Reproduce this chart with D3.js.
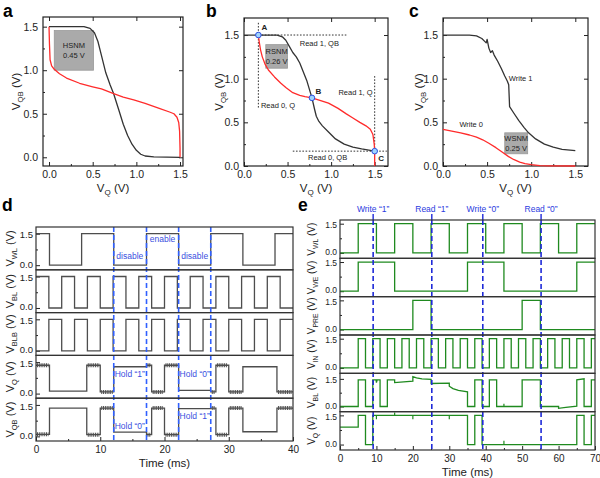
<!DOCTYPE html>
<html>
<head>
<meta charset="utf-8">
<script src="https://cdn.jsdelivr.net/npm/d3@7"></script>
<style>
  body { margin: 0; background: #fff; }
  svg { display: block; font-family: "Liberation Sans", Arial, sans-serif; }
</style>
</head>
<body>
<div class="canvas"></div>
<script>
// ---------- data ----------
// a: butterfly curves (VQ, VQB)
const aBlack = [[0,1.5],[0.4,1.5],[0.47,1.48],[0.52,1.43],[0.56,1.33],[0.6,1.17],[0.65,0.97],[0.7,0.83],[0.74,0.73],[0.8,0.54],[0.85,0.38],[0.9,0.25],[0.95,0.15],[1.0,0.08],[1.05,0.035],[1.1,0.015],[1.2,0.005],[1.5,0]];
const aRed = [[0,1.5],[0.005,1.3],[0.012,1.12],[0.03,1.05],[0.06,1.01],[0.12,0.96],[0.2,0.91],[0.35,0.85],[0.5,0.81],[0.6,0.785],[0.74,0.73],[0.85,0.69],[0.97,0.66],[1.1,0.62],[1.27,0.56],[1.38,0.52],[1.43,0.5],[1.465,0.46],[1.485,0.4],[1.495,0.3],[1.5,0.1],[1.5,0]];
// b: read curves
const bBlack = [[0,1.5],[0.38,1.5],[0.44,1.48],[0.48,1.44],[0.52,1.37],[0.56,1.3],[0.6,1.25],[0.64,1.18],[0.68,1.08],[0.72,0.98],[0.75,0.88],[0.78,0.78],[0.81,0.65],[0.83,0.57],[0.86,0.51],[0.9,0.46],[0.97,0.39],[1.05,0.31],[1.15,0.25],[1.25,0.215],[1.35,0.195],[1.5,0.17]];
const bRed = [[0.165,1.5],[0.175,1.42],[0.19,1.33],[0.21,1.25],[0.24,1.17],[0.28,1.1],[0.35,1.02],[0.42,0.95],[0.48,0.9],[0.56,0.84],[0.64,0.81],[0.7,0.795],[0.78,0.78],[0.88,0.75],[0.97,0.72],[1.08,0.66],[1.17,0.6],[1.25,0.55],[1.33,0.5],[1.4,0.46],[1.45,0.42],[1.48,0.36],[1.495,0.25],[1.5,0.17],[1.5,0]];
const bPoints = [["A",0.165,1.5],["B",0.78,0.78],["C",1.5,0.17]];
// c: write curves
const cBlack = [[0,1.5],[0.3,1.5],[0.38,1.49],[0.44,1.46],[0.47,1.43],[0.49,1.41],[0.5,1.45],[0.52,1.35],[0.54,1.3],[0.56,1.32],[0.58,1.27],[0.62,1.2],[0.66,1.12],[0.7,1.03],[0.73,0.97],[0.745,0.93],[0.755,0.68],[0.8,0.61],[0.86,0.52],[0.92,0.44],[0.97,0.38],[1.05,0.31],[1.15,0.25],[1.25,0.215],[1.35,0.19],[1.5,0.175]];
const cRed = [[0,0.42],[0.1,0.4],[0.2,0.38],[0.3,0.355],[0.38,0.33],[0.45,0.3],[0.52,0.26],[0.6,0.21],[0.67,0.16],[0.74,0.11],[0.8,0.075],[0.87,0.045],[0.93,0.028],[1.0,0.015],[1.1,0.005],[1.2,0.002],[1.5,0]];

// d: hold test, step waveforms [t, level]
const dWL  = [[0,1.5],[2.1,0],[7.1,1.5],[12.1,0],[17.2,1.5],[22.2,0],[27.2,1.5],[32.2,0],[37.2,1.5],[40,1.5]];
const dBL  = [[0,1.5],[2,0],[4,1.5],[6,0],[8,1.5],[10,0],[12,1.5],[14,0],[16,1.5],[18,0],[20,1.5],[22,0],[24,1.5],[26,0],[28,1.5],[30,0],[32,1.5],[34,0],[36,1.5],[38,0],[40,0]];
const dBLB = [[0,0],[2,1.5],[4,0],[6,1.5],[8,0],[10,1.5],[12,0],[14,1.5],[16,0],[18,1.5],[20,0],[22,1.5],[24,0],[26,1.5],[28,0],[30,1.5],[32,0],[34,1.5],[36,0],[38,1.5],[40,1.5]];
// d: Q / QB segments [t0, t1, level, noisy]
const dQ  = [[0,2.1,1.35,1],[2.1,7.9,0.12,0],[7.9,10,1.35,1],[10,12.1,0.08,1],[12.1,17.2,1.28,0],[17.2,18,1.35,1],[18,20,0.08,1],[20,22.2,1.35,1],[22.2,27.2,0.15,0],[27.2,28,0.08,1],[28,30,1.35,1],[30,32.2,0.08,1],[32.2,37.5,1.28,0],[37.5,40,0.08,1]];
const dQB = [[0,2.1,0.1,1],[2.1,7.9,1.35,0],[7.9,10,0.08,1],[10,12.1,1.35,1],[12.1,17.2,0.2,0],[17.2,18,0.08,1],[18,20,1.35,1],[20,22.2,0.08,1],[22.2,27.2,1.32,0],[27.2,28,1.35,1],[28,30,0.08,1],[30,32.2,1.35,1],[32.2,37.5,0.22,0],[37.5,40,1.35,1]];
const dMarks = [12.1, 17.2, 22.2, 27.2];
const dNotes = [["disable",14.6,0,0.45],["enable",19.7,0,1.25],["disable",24.7,0,0.45],
                ["Hold \u201c1\u201d",14.6,3,0.95],["Hold \u201c0\u201d",24.7,3,0.95],
                ["Hold \u201c0\u201d",14.6,4,0.5],["Hold \u201c1\u201d",24.7,4,0.95]];

// e: read/write test
const eWL  = [[0,0],[5,1.5],[10,0],[15,1.5],[20,0],[25,1.5],[30,0],[35,1.5],[40,0],[45,1.5],[50,0],[55,1.5],[60,0],[65,1.5],[70,1.5]];
const eWE  = [[0,0],[5,1.5],[15,0],[35,1.5],[45,0],[65,1.5],[70,1.5]];
const ePRE = [[0,0],[20,1.5],[25,0],[50,1.5],[55,0],[70,0]];
const eIN  = [[0,0],[5,1.5],[7,0],[9,1.5],[11,0],[13,1.5],[15,0],[17,1.5],[19,0],[21,1.5],[23,0],[25,1.5],[27,0],[29,1.5],[31,0],[33,1.5],[35,0],[37,1.5],[39,0],[41,1.5],[43,0],[45,1.5],[47,0],[49,1.5],[51,0],[53,1.5],[55,0],[57,1.5],[59,0],[61,1.5],[63,0],[65,1.5],[67,0],[69,1.5],[70,1.5]];
const eBL  = [[0,0],[5,0],[5,1.45],[7,1.45],[7,0],[9,0],[9,1.45],[9.9,1.45],[10,1.3],[10.2,1.45],[11,1.45],[11,0],[13,0],[13,1.45],[15,1.45],[15,1.3],[20,1.38],[20,1.62],[21,1.55],[22.5,1.5],[25,1.47],[25,1.25],[30,1.27],[30,1.1],[31,0.97],[32.5,0.88],[35,0.8],[35,0],[37,0],[37,1.45],[39,1.45],[39,0],[41,0],[41,1.45],[43,1.45],[43,0],[50,0],[50,1.45],[55,1.45],[55,0],[60,0],[60,-0.1],[62,-0.05],[65,0.02],[65,1.45],[67,1.5],[67,0],[69,0],[69,1.45],[70,1.45]];
const eQ   = [[0,0.9],[5,0.9],[5,1.5],[7,1.5],[7,0],[9,0],[9,1.5],[35,1.5],[35,0],[37,0],[37,1.5],[39,1.5],[39,0],[65,0],[65,1.5],[67,1.5],[67,0],[69,0],[69,1.5],[70,1.5]];
const eQspikes = [[10,1.5,1.3],[15,1.5,1.65],[20,1.5,1.3],[30,1.5,1.3],[45,0,0.2]];
const eBLspikes = [[45,0,0.15]];
const eMarks = [9.1, 25.2, 39.2, 55.2];
const eMarkLabels = ["Write \u201c1\u201d", "Read \u201c1\u201d", "Write \u201c0\u201d", "Read \u201c0\u201d"];

// ---------- drawing ----------
const width = 600, height = 478;
const svg = d3.select('.canvas').append('svg')
  .attr('width', width).attr('height', height)
  .attr('viewBox', [0, 0, width, height]);

const ink = '#222';
const fmt = d3.format('.1f');

function panelLetter(t, x, y) {
  svg.append('text').attr('x', x).attr('y', y)
    .attr('font-size', 17.5).attr('font-weight', 'bold').attr('fill', '#000').text(t);
}

// rotated "V_sub (V)" label
function vLabel(sub, x, yc, size) {
  const t = svg.append('text')
    .attr('transform', `translate(${x},${yc}) rotate(-90)`)
    .attr('text-anchor', 'middle').attr('font-size', size).attr('fill', ink);
  t.append('tspan').text('V');
  t.append('tspan').attr('font-size', size * 0.68).attr('dy', size * 0.25).text(sub);
  t.append('tspan').attr('dy', -size * 0.25).text(' (V)');
}

function styleAxis(g, fs) {
  g.select('.domain').remove();
  g.selectAll('.tick line').attr('stroke', ink).attr('stroke-width', 1);
  g.selectAll('.tick text').attr('font-size', fs).attr('fill', ink).attr('font-family', null);
}

// XY panel (a, b, c)
function xyPanel(p) {
  const x = d3.scaleLinear().domain(p.xd).range([p.l, p.r]);
  const y = d3.scaleLinear().domain(p.yd).range([p.b, p.t]);
  const g = svg.append('g');
  const major = [0, 0.5, 1, 1.5], minor = [0.25, 0.75, 1.25];
  g.append('g').attr('transform', `translate(0,${p.b})`)
    .call(d3.axisBottom(x).tickValues(major).tickFormat(fmt).tickSize(-4).tickPadding(5))
    .call(s => styleAxis(s, 10.5));
  g.append('g').attr('transform', `translate(0,${p.b})`)
    .call(d3.axisBottom(x).tickValues(minor).tickFormat('').tickSize(-2)).call(s => styleAxis(s, 10));
  g.append('g').attr('transform', `translate(0,${p.t})`)
    .call(d3.axisTop(x).tickValues(major).tickFormat('').tickSize(-4)).call(s => styleAxis(s, 10));
  g.append('g').attr('transform', `translate(${p.l},0)`)
    .call(d3.axisLeft(y).tickValues(major).tickFormat(fmt).tickSize(-4).tickPadding(5))
    .call(s => styleAxis(s, 10.5));
  g.append('g').attr('transform', `translate(${p.l},0)`)
    .call(d3.axisLeft(y).tickValues(minor).tickFormat('').tickSize(-2)).call(s => styleAxis(s, 10));
  g.append('g').attr('transform', `translate(${p.r},0)`)
    .call(d3.axisRight(y).tickValues(major).tickFormat('').tickSize(-4)).call(s => styleAxis(s, 10));
  g.append('rect').attr('x', p.l).attr('y', p.t).attr('width', p.r - p.l).attr('height', p.b - p.t)
    .attr('fill', 'none').attr('stroke', ink).attr('stroke-width', 1.2);
  // titles
  const xt = svg.append('text').attr('x', (p.l + p.r) / 2).attr('y', p.b + 26)
    .attr('text-anchor', 'middle').attr('font-size', 11.5).attr('fill', ink);
  xt.append('tspan').text('V');
  xt.append('tspan').attr('font-size', 8).attr('dy', 3).text('Q');
  xt.append('tspan').attr('dy', -3).text(' (V)');
  vLabel('QB', p.yl, (p.t + p.b) / 2, 11.5);
  return { x, y, g };
}

const line = (x, y) => d3.line().x(d => x(d[0])).y(d => y(d[1]));
function curve(P, data, color) {
  P.g.append('path').datum(data).attr('d', line(P.x, P.y)).attr('fill', 'none')
    .attr('stroke', color).attr('stroke-width', 1.3).attr('stroke-linejoin', 'round');
}
function grayBox(P, x0, x1, y0, y1, lines) {
  P.g.append('rect').attr('x', P.x(x0)).attr('y', P.y(y1))
    .attr('width', P.x(x1) - P.x(x0)).attr('height', P.y(y0) - P.y(y1))
    .attr('fill', '#aaaaaa').attr('stroke', '#999').attr('stroke-width', 0.8);
  const cx = (P.x(x0) + P.x(x1)) / 2, cy = (P.y(y0) + P.y(y1)) / 2;
  lines.forEach((t, i) => P.g.append('text').attr('x', cx).attr('y', cy + (i - 0.5) * 10 + 3)
    .attr('text-anchor', 'middle').attr('font-size', 7.5).attr('fill', '#222').text(t));
}
function note(P, t, x, y, opts = {}) {
  P.g.append('text').attr('x', P.x(x)).attr('y', P.y(y)).attr('text-anchor', opts.anchor || 'middle')
    .attr('font-size', opts.size || 7.5).attr('font-weight', opts.bold ? 'bold' : null)
    .attr('fill', '#222').text(t);
}

// ---- a ----
panelLetter('a', 3, 16.5);
const A = xyPanel({ l: 43, r: 183, t: 17, b: 166, xd: [-0.069, 1.534], yd: [-0.1, 1.611], yl: 20 });
grayBox(A, 0.06, 0.51, 1.0, 1.455, ['HSNM', '0.45 V']);
curve(A, aBlack, '#333');
curve(A, aRed, '#ff2b2b');

// ---- b ----
panelLetter('b', 206, 16.5);
const B = xyPanel({ l: 244, r: 388, t: 18, b: 166, xd: [0, 1.653], yd: [0, 1.695], yl: 223 });
const dot = (P, pts) => P.g.append('path').datum(pts).attr('d', line(P.x, P.y)).attr('fill', 'none')
  .attr('stroke', '#333').attr('stroke-width', 1).attr('stroke-dasharray', '1.6,1.6');
dot(B, [[0.165, 1.64], [0.165, 0.66]]);
dot(B, [[0.165, 1.5], [1.18, 1.5]]);
dot(B, [[1.5, 1.03], [1.5, 0.17]]);
dot(B, [[0.56, 0.17], [1.64, 0.17]]);
grayBox(B, 0.25, 0.5, 1.12, 1.39, ['RSNM', '0.26 V']);
curve(B, bBlack, '#333');
curve(B, bRed, '#ff2b2b');
B.g.selectAll('circle.pt').data(bPoints).join('circle').attr('class', 'pt')
  .attr('cx', d => B.x(d[1])).attr('cy', d => B.y(d[2])).attr('r', 2.8)
  .attr('fill', '#9fd4ff').attr('stroke', '#2f4fe0').attr('stroke-width', 1);
note(B, 'A', 0.2, 1.56, { bold: true, anchor: 'start', size: 8 });
note(B, 'B', 0.82, 0.82, { bold: true, anchor: 'start', size: 8 });
note(B, 'C', 1.54, 0.06, { bold: true, anchor: 'start', size: 8 });
note(B, 'Read 1, QB', 0.865, 1.38);
note(B, 'Read 0, Q', 0.39, 0.66);
note(B, 'Read 1, Q', 1.28, 0.81);
note(B, 'Read 0, QB', 0.96, 0.07);

// ---- c ----
panelLetter('c', 409, 16.5);
const C = xyPanel({ l: 443, r: 588, t: 18, b: 166, xd: [0, 1.644], yd: [0, 1.695], yl: 423 });
grayBox(C, 0.70, 0.96, 0.14, 0.38, ['WSNM', '0.25 V']);
curve(C, cBlack, '#333');
curve(C, cRed, '#ff2b2b');
note(C, 'Write 1', 0.88, 0.97);
note(C, 'Write 0', 0.32, 0.45);

// ---- stacked waveform panels ----
function stack(p) {
  const x = d3.scaleLinear().domain(p.xd).range([p.l, p.r]);
  const h = (p.b - p.t) / p.rows.length;
  const rows = p.rows.map((r, i) => {
    const top = p.t + i * h, bot = top + h;
    const y = d3.scaleLinear().domain(r.yd || p.yd).range([bot, top]);
    const g = svg.append('g');
    g.append('g').attr('transform', `translate(${p.l},0)`)
      .call(d3.axisLeft(y).tickValues([0, 1.5]).tickFormat(fmt).tickSize(-4).tickPadding(3))
      .call(s => styleAxis(s, p.tf))
      .call(s => s.selectAll('.tick text').attr('dy', d => d > 1 ? '0.45em' : '0.2em'));
    g.append('g').attr('transform', `translate(${p.l},0)`)
      .call(d3.axisLeft(y).tickValues([0.75]).tickFormat('').tickSize(-2)).call(s => styleAxis(s, 10));
    vLabel(r.name, p.yl, (top + bot) / 2, p.lf);
    return { y, g, top, bot };
  });
  // bottom time axis
  svg.append('g').attr('transform', `translate(0,${p.b})`)
    .call(d3.axisBottom(x).ticks(p.xticks).tickSize(-4).tickPadding(5)).call(s => styleAxis(s, 10));
  svg.append('g').attr('transform', `translate(0,${p.b})`)
    .call(d3.axisBottom(x).tickValues(p.minor).tickFormat('').tickSize(-2)).call(s => styleAxis(s, 10));
  svg.append('text').attr('x', (p.l + p.r) / 2).attr('y', p.b + 26).attr('text-anchor', 'middle')
    .attr('font-size', 11.5).attr('fill', ink).text('Time (ms)');
  return { x, rows, h };
}
function boxes(S, p) {
  S.rows.forEach(r => svg.append('rect').attr('x', p.l).attr('y', r.top)
    .attr('width', p.r - p.l).attr('height', r.bot - r.top)
    .attr('fill', 'none').attr('stroke', '#333').attr('stroke-width', 1.2));
}
function stepPath(S, r, data, color) {
  r.g.append('path').datum(data)
    .attr('d', d3.line().curve(d3.curveStepAfter).x(d => S.x(d[0])).y(d => r.y(d[1])))
    .attr('fill', 'none').attr('stroke', color).attr('stroke-width', 1.3);
}
function polyPath(S, r, data, color) {
  r.g.append('path').datum(data)
    .attr('d', d3.line().x(d => S.x(d[0])).y(d => r.y(d[1])))
    .attr('fill', 'none').attr('stroke', color).attr('stroke-width', 1.3);
}
function segPath(S, r, segs, color) {
  const pts = segs.flatMap(s => [[s[0], s[2]], [s[1], s[2]]]);
  polyPath(S, r, pts, color);
  r.g.selectAll('line.noise').data(segs.filter(s => s[3])).join('line').attr('class', 'noise')
    .attr('x1', s => S.x(s[0]) + 1).attr('x2', s => S.x(s[1]) - 1)
    .attr('y1', s => r.y(s[2])).attr('y2', s => r.y(s[2]))
    .attr('stroke', color).attr('stroke-width', 4).attr('stroke-dasharray', '1,0.8');
}

// ---- d ----
panelLetter('d', 2, 211);
const dP = { l: 36, r: 293, t: 227, b: 441, xd: [0, 40], yd: [-0.22, 1.82], yl: 14, lf: 11, tf: 9.5, xticks: 5,
  minor: [5, 15, 25, 35],
  rows: [{ name: 'WL' }, { name: 'BL' }, { name: 'BLB' }, { name: 'Q' }, { name: 'QB' }] };
const D = stack(dP);
const gray = '#4d4d4d';
stepPath(D, D.rows[0], dWL, gray);
stepPath(D, D.rows[1], dBL, gray);
stepPath(D, D.rows[2], dBLB, gray);
segPath(D, D.rows[3], dQ, gray);
segPath(D, D.rows[4], dQB, gray);
svg.selectAll('line.dmark').data(dMarks).join('line').attr('class', 'dmark')
  .attr('x1', d => D.x(d)).attr('x2', d => D.x(d)).attr('y1', dP.t).attr('y2', dP.b)
  .attr('stroke', '#3060ff').attr('stroke-width', 1.6).attr('stroke-dasharray', '5,3');
dNotes.forEach(n => {
  const r = D.rows[n[2]];
  svg.append('text').attr('x', D.x(n[1])).attr('y', r.y(n[3]) + 3).attr('text-anchor', 'middle')
    .attr('font-size', 8.5).attr('fill', '#3a4fe0').text(n[0]);
});
boxes(D, dP);

// ---- e ----
panelLetter('e', 298, 211);
const eP = { l: 340, r: 595, t: 220, b: 450, xd: [0, 70], yd: [-0.28, 1.69], yl: 315, lf: 10, tf: 8.5, xticks: 7,
  minor: [5, 15, 25, 35, 45, 55, 65],
  rows: [{ name: 'WL' }, { name: 'WE' }, { name: 'PRE' }, { name: 'IN' }, { name: 'BL', yd: [-0.28, 1.8] }, { name: 'Q' }] };
const E = stack(eP);
const green = '#1f8a1f';
stepPath(E, E.rows[0], eWL, green);
stepPath(E, E.rows[1], eWE, green);
stepPath(E, E.rows[2], ePRE, green);
stepPath(E, E.rows[3], eIN, green);
polyPath(E, E.rows[4], eBL, green);
polyPath(E, E.rows[5], eQ, green);
[[4, eBLspikes], [5, eQspikes]].forEach(([i, sp]) => {
  const r = E.rows[i];
  r.g.selectAll('line.sp').data(sp).join('line').attr('class', 'sp')
    .attr('x1', d => E.x(d[0])).attr('x2', d => E.x(d[0]))
    .attr('y1', d => r.y(d[1])).attr('y2', d => r.y(d[2]))
    .attr('stroke', green).attr('stroke-width', 1.2);
});
svg.selectAll('line.emark').data(eMarks).join('line').attr('class', 'emark')
  .attr('x1', d => E.x(d)).attr('x2', d => E.x(d)).attr('y1', eP.t).attr('y2', eP.b)
  .attr('stroke', '#1f2ad8').attr('stroke-width', 1.6).attr('stroke-dasharray', '5,3');
svg.selectAll('line.estub').data(eMarks).join('line').attr('class', 'estub')
  .attr('x1', d => E.x(d)).attr('x2', d => E.x(d)).attr('y1', eP.t - 6).attr('y2', eP.t)
  .attr('stroke', '#1f2ad8').attr('stroke-width', 1.4);
svg.selectAll('text.elab').data(eMarks).join('text').attr('class', 'elab')
  .attr('x', d => E.x(d)).attr('y', eP.t - 8).attr('text-anchor', 'middle')
  .attr('font-size', 8.5).attr('fill', '#2a3be0').text((d, i) => eMarkLabels[i]);
boxes(E, eP);
</script>
</body>
</html>
